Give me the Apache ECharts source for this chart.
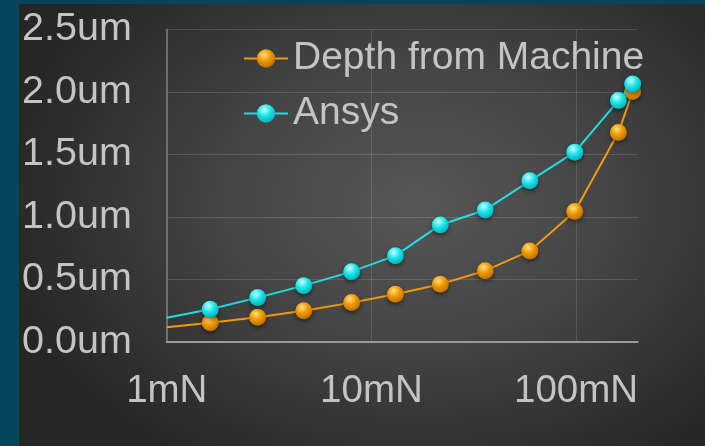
<!DOCTYPE html>
<html><head><meta charset="utf-8">
<script src="https://cdn.jsdelivr.net/npm/echarts@6/dist/echarts.min.js"></script>
<style>
html,body{margin:0;padding:0;width:705px;height:446px;background:#07455d;overflow:hidden}
#c{position:absolute;left:19px;top:4px;width:686px;height:442px;
background:radial-gradient(ellipse 62% 70% at 58% 45%, #575757 0%, #454545 45%, #2e2e2e 85%, #262626 100%);}
</style></head>
<body><div id="c"></div>
<script>
// Force (mN) and depth (um)
const machineForce = [1, 1.63, 2.78, 4.67, 8.0, 13.1, 21.7, 36, 59.4, 98.5, 161, 189];
const machineDepth = [0.115, 0.152, 0.196, 0.248, 0.313, 0.380, 0.460, 0.569, 0.727, 1.042, 1.675, 2.003];
const ansysForce = [1, 1.63, 2.78, 4.67, 8.0, 13.1, 21.7, 36, 59.4, 98.5, 161, 189];
const ansysDepth = [0.192, 0.260, 0.353, 0.449, 0.561, 0.689, 0.935, 1.055, 1.288, 1.518, 1.931, 2.063];
const seriesNames = ['Depth from Machine', 'Ansys'];
const xTickLabels = {1: '1mN', 10: '10mN', 100: '100mN'};

const FONT = 'Liberation Sans, Arial, sans-serif';
const TXT = '#c4c4c4';

function ball(light, mid, dark) {
  return {type: 'radial', x: 0.4, y: 0.3, r: 0.75,
    colorStops: [{offset: 0, color: light}, {offset: 0.45, color: mid}, {offset: 1, color: dark}]};
}
function build(xs, ys) {
  return xs.map((x, i) => i === 0 ? {value: [x, ys[i]], symbol: 'none'} : [x, ys[i]]);
}
const chart = echarts.init(document.getElementById('c'));
chart.setOption({
  animation: false,
  grid: {left: 147.7, top: 25.5, right: 67.3, bottom: 104.3, containLabel: false},
  legend: {
    orient: 'vertical', left: 224, top: 35, itemGap: 16, padding: 0,
    itemWidth: 44, itemHeight: 23,
    textStyle: {color: TXT, fontSize: 39, fontFamily: FONT},
    data: seriesNames
  },
  xAxis: {
    type: 'log', logBase: 10, min: 1, max: 200,
    axisLine: {lineStyle: {color: '#9a9a9a', width: 2}},
    axisTick: {show: false},
    axisLabel: {color: TXT, fontSize: 38.5, fontFamily: FONT, margin: 30,
      showMaxLabel: false,
      formatter: v => xTickLabels[Math.round(v)] || ''},
    splitLine: {show: true, showMaxLine: false, lineStyle: {color: 'rgba(255,255,255,0.13)', width: 1}}
  },
  yAxis: {
    type: 'value', min: 0, max: 2.5, interval: 0.5,
    axisLine: {show: true, lineStyle: {color: '#7e7e7e', width: 1.5}},
    axisTick: {show: false},
    axisLabel: {color: TXT, fontSize: 39.5, fontFamily: FONT, margin: 35,
      formatter: v => v.toFixed(1) + 'um'},
    splitLine: {lineStyle: {color: 'rgba(255,255,255,0.13)', width: 1}}
  },
  series: [
    {name: seriesNames[0], type: 'line', data: build(machineForce, machineDepth),
      symbol: 'circle', symbolSize: 17,
      lineStyle: {color: '#f39a0c', width: 2},
      itemStyle: {color: ball('#ffe27a', '#f09a08', '#b86a00'),
        shadowColor: 'rgba(0,0,0,0.5)', shadowBlur: 4, shadowOffsetY: 2},
      z: 2},
    {name: seriesNames[1], type: 'line', data: build(ansysForce, ansysDepth),
      symbol: 'circle', symbolSize: 17,
      lineStyle: {color: '#22dce0', width: 2},
      itemStyle: {color: ball('#c8ffff', '#1ee6e8', '#00a9b3'),
        shadowColor: 'rgba(0,0,0,0.5)', shadowBlur: 4, shadowOffsetY: 2},
      z: 3}
  ]
});
</script></body></html>
